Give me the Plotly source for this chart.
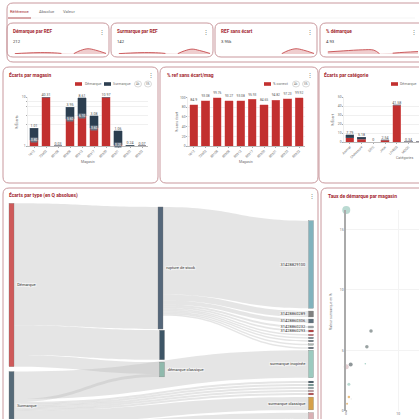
import plotly.graph_objects as go

W, H = 419, 450

RED = "#c2302f"
NAVY = "#2c3e50"
TITLE = "#a3282f"
BORDER = "#c9989d"
GREY = "#707070"

# tabs and kpi cards
tabs = ["Référence", "Absolue", "Valeur"]
kpi_titles = ["Démarque par REF", "Surmarque par REF", "REF sans écart", "% démarque"]
kpi_values = ["212", "142", "3.95k", "4.93"]

spark1_x = [3, 15, 30, 45, 52, None, 65, 72, 80, 88, 99]
spark1_y = [0.05, 0.14, 0.2, 0.16, 0.08, None, 0.05, 0.5, 0.75, 0.55, 0.08]
spark2_x = [3, 15, 30, 45, 52, None, 65, 72, 80, 88, 99]
spark2_y = [0.05, 0.14, 0.2, 0.16, 0.08, None, 0.05, 0.45, 0.7, 0.5, 0.08]
spark3_x = [65, 72, 80, 88, 99]
spark3_y = [0.05, 0.5, 0.75, 0.55, 0.08]
spark4_x = [3, 20, 40, 52, 58, None, 72, 85, 99]
spark4_y = [0.3, 0.45, 0.6, 0.55, 0.05, None, 0.12, 0.25, 0.35]

# ecarts par magasin
magasins = ["1012", "73903", "80108", "80308", "80313", "80317", "80320", "80321", "80322", "80323"]
mag_demarque = [1.2, 10, 0.02, 5.6, 6.1, 3.6, 10, 0.2, 0.1, 0.03]
mag_surmarque = [2.4, 0, 0.01, 2.3, 3.7, 2.6, 0, 2.9, 0.1, 0.04]
mag_labels = ["1.01", "40.31", "0.03", "3.95", "8.61", "3.08", "10.97", "1.06", "0.24", "0.07"]
mag_inner = ["0.80", None, None, "5.60", "6.10", "3.60", None, "0.20", None, None]
mag_ticks = [0, 4.3, 6.3, 8.1, 9.1, 10]
mag_ticktext = ["1", "", "", "", "", "10"]

# % ref sans ecart
mag_correct = [84.9, 93.08, 99.76, 93.27, 93.08, 95.93, 84.65, 94.82, 97.23, 99.92]

# ecarts par categorie
categories = ["Animal", "Chaussure", "DIVE", "Jeux", "LIVRES", "MODE", "PAPET"]
cat_demarque = [5.0, 3.2, 0, 1.9, 41.0, 0.1, 0.05]
cat_surmarque = [2.8, 2.0, 0, 0.6, 0.6, 0.24, 0.15]
cat_labels = ["7.79", "5.18", "0", "2.54", "41.58", "0.34", "0.2"]

# sankey
node_labels = [
    "Démarque", "Surmarque", "rupture de stock", "", "démarque classique",
    "31428829100", "31428860289", "31428860306", "31428860232", "31428860293",
    "", "", "", "", "", "surmarque inopinée", "", "", "", "", "",
    "surmarque classique", "stock ouvert",
]
node_colors = [
    "#cf5a5a", "#566a78", "#55677a", "#3d5566", "#8fb9ac",
    "#82b3bd", "#808080", "#5d6f7c", "#a5aeb2", "#c0393b",
    "#c8656a", "#6a7a85", "#4f5f6b", "#a9b5b0", "#3d4f5c", "#9ccabf",
    "#2f4656", "#6c9a96", "#9aaeb0", "#cfa2a6", "#c0393b",
    "#d6a04a", "#d9b0b4",
]
link_source = [0, 0, 0, 1, 1, 1, 1, 1, 1, 1, 1, 1,
               2, 2, 2, 2, 2, 2, 2, 2, 2, 2]
link_target = [2, 3, 4, 4, 15, 16, 17, 18, 19, 20, 21, 22,
               5, 6, 7, 8, 9, 10, 11, 12, 13, 14]
link_value = [124, 30, 12, 3, 28, 1.8, 1.8, 1.8, 1.8, 1.8, 13, 17,
              89, 6, 4, 2, 2, 1.5, 1.5, 1.5, 1.5, 1.5]

# layout of the sankey nodes, in pixels of the page (centers)
node_px_x = [11.5, 11.5, 160.5, 162, 162] + [311] * 18
node_px_y = [285, 406, 268, 345, 369.5, 264.5, 314, 321, 327, 331,
             335, 338, 341, 344.5, 348, 364, 382, 385, 388, 391, 394, 403.5, 421]

# bubbles
bub_x = [0.05, 4.8, 4.0, 0.9, 3.7, 0.05, 0.55, 0.55, 0.2, 1.0, 0.05]
bub_y = [16.6, 6.6, 5.3, 3.85, 3.9, 3.65, 2.2, 1.15, 0.6, 1.0, 0]
bub_size = [8, 3.5, 3.5, 4, 1.5, 5, 3, 2.5, 2, 1.2, 2]
bub_color = ["#9ccabf", "#6d7b7b", "#6d7b7b", "#5f6b6e", "#7fbcae", "#d9bcc0",
             "#9ccabf", "#e0a24a", "#e0a24a", "#dddddd", "#8a8a8a"]


def xd(a, b):
    return [a / W, b / W]


def yd(top, bottom):
    return [1 - bottom / H, 1 - top / H]


def card(x0, y0, x1, y1, r=6, color=BORDER, width=1):
    a, b, c, d = x0 / W, 1 - y0 / H, x1 / W, 1 - y1 / H
    rx, ry = r / W, r / H
    path = (f"M {a+rx} {b} L {c-rx} {b} Q {c} {b} {c} {b-ry} L {c} {d+ry} Q {c} {d} {c-rx} {d} "
            f"L {a+rx} {d} Q {a} {d} {a} {d+ry} L {a} {b-ry} Q {a} {b} {a+rx} {b} Z")
    return dict(type="path", path=path, xref="paper", yref="paper",
                line=dict(color=color, width=width), layer="below")


def note(x, y, text, size=5, color="#333333", bold=False, anchor="left", angle=0):
    if bold:
        text = f"<b>{text}</b>"
    return dict(x=x / W, y=1 - y / H, xref="paper", yref="paper", text=text, showarrow=False,
                font=dict(size=size, color=color), xanchor=anchor, yanchor="middle",
                textangle=angle, borderpad=0)


def swatch(x0, x1, y, color):
    return dict(type="rect", x0=x0 / W, x1=x1 / W, y0=1 - (y + 1.8) / H, y1=1 - (y - 1.8) / H,
                xref="paper", yref="paper", fillcolor=color, line=dict(width=0))


def button(x, y):
    return dict(type="circle", x0=(x - 3.5) / W, x1=(x + 3.5) / W, y0=1 - (y + 3) / H, y1=1 - (y - 3) / H,
                xref="paper", yref="paper", line=dict(color="#b5b5b5", width=0.5))


fig = go.Figure()
shapes = []
notes = []

# outer cards
shapes += [card(7, 3, 440, 62), card(3, 67, 158, 183), card(160, 67, 318, 183), card(319, 67, 440, 183),
           card(3, 188, 318, 470), card(321, 188, 440, 470)]
shapes += [card(7, 23, 109, 57), card(111, 23, 213, 57), card(215, 23, 317, 57), card(320, 23, 440, 57)]
shapes.append(dict(type="line", x0=8 / W, x1=415 / W, y0=1 - 18 / H, y1=1 - 18 / H, xref="paper", yref="paper",
                   line=dict(color="#eeeeee", width=0.6)))
shapes.append(dict(type="line", x0=8 / W, x1=31 / W, y0=1 - 18 / H, y1=1 - 18 / H, xref="paper", yref="paper",
                   line=dict(color=TITLE, width=0.8)))

notes += [note(9, 11, tabs[0], 4.2, TITLE), note(38, 11, tabs[1], 4.2, GREY), note(62, 11, tabs[2], 4.2, GREY)]

# kpi cards
kpi_left = [12, 116, 220, 325]
kpi_dots = [102, 206, 310, 414]
sparks = [(spark1_x, spark1_y), (spark2_x, spark2_y), (spark3_x, spark3_y), (spark4_x, spark4_y)]
for i in range(4):
    notes.append(note(kpi_left[i], 31, kpi_titles[i], 4.7, TITLE, bold=True))
    notes.append(note(kpi_left[i], 41, kpi_values[i], 4.2, "#333333"))
    notes.append(note(kpi_dots[i], 31, "⋮", 6, GREY, anchor="center"))
    name = str(i + 4)
    left = kpi_left[i]
    fig.add_trace(go.Scatter(x=sparks[i][0], y=sparks[i][1], mode="lines", fill="tozeroy",
                             line=dict(color="#c0393b", width=0.8, shape="spline"),
                             fillcolor="rgba(192,57,59,0.25)", xaxis="x" + name, yaxis="y" + name))
    fig.update_layout(**{
        "xaxis" + name: dict(domain=xd(left, min(left + 95, W)), range=[0, 100], visible=False, anchor="y" + name),
        "yaxis" + name: dict(domain=yd(47, 54), range=[0, 1], visible=False, anchor="x" + name),
    })

# ecarts par magasin
fig.add_trace(go.Bar(x=magasins, y=mag_demarque, marker=dict(color=RED, line=dict(color="#e58a8a", width=0.4)), xaxis="x", yaxis="y"))
fig.add_trace(go.Bar(x=magasins, y=mag_surmarque, marker=dict(color=NAVY, line=dict(color="#5a6b7c", width=0.4)), xaxis="x", yaxis="y"))
mag_totals = [a + b for a, b in zip(mag_demarque, mag_surmarque)]
fig.add_trace(go.Scatter(x=magasins, y=mag_totals, mode="text", text=mag_labels, textposition="top center",
                         textfont=dict(size=3.6, color="#555555"), cliponaxis=False, xaxis="x", yaxis="y"))
for i, (y, txt) in enumerate(zip(mag_demarque, mag_inner)):
    if txt:
        # numeric-looking names would be read as positions, so use the index
        notes.append(dict(x=i, y=y, xref="x", yref="y", text=txt, showarrow=False, bgcolor="#6b7785",
                          font=dict(size=3.2, color="white"), borderpad=0))

# % ref sans ecart
fig.add_trace(go.Bar(x=magasins, y=mag_correct, marker=dict(color=RED, line=dict(color="#e58a8a", width=0.4)),
                     text=[str(v) for v in mag_correct], textposition="outside", cliponaxis=False,
                     textfont=dict(size=3.6, color="#555555"), xaxis="x2", yaxis="y2"))

# ecarts par categorie
fig.add_trace(go.Bar(x=categories, y=cat_demarque, marker=dict(color=RED, line=dict(color="#e58a8a", width=0.4)), xaxis="x3", yaxis="y3"))
fig.add_trace(go.Bar(x=categories, y=cat_surmarque, marker=dict(color=NAVY, line=dict(color="#5a6b7c", width=0.4)), xaxis="x3", yaxis="y3"))
cat_totals = [a + b for a, b in zip(cat_demarque, cat_surmarque)]
fig.add_trace(go.Scatter(x=categories, y=cat_totals, mode="text", text=cat_labels, textposition="top center",
                         textfont=dict(size=3.6, color="#555555"), cliponaxis=False, xaxis="x3", yaxis="y3"))

cat_axis = dict(type="category", tickangle=-45, tickfont=dict(size=3.4, color=GREY), ticks="outside", ticklen=1, tickwidth=0.4,
                tickcolor="#aaaaaa", showline=True, linecolor="#bbbbbb", linewidth=0.5, showgrid=False)
val_axis = dict(tickfont=dict(size=3.4, color=GREY), gridcolor="#f0f0f0", gridwidth=0.5, zeroline=False,
                ticks="outside", ticklen=1, tickwidth=0.4, tickcolor="#aaaaaa", showline=True, linecolor="#eeeeee", linewidth=0.4)
fig.update_layout(
    xaxis=dict(domain=xd(28, 148), range=[-0.5, 9.5], **cat_axis),
    yaxis=dict(domain=yd(97, 146), range=[0, 10], tickvals=mag_ticks, ticktext=mag_ticktext, **val_axis),
    xaxis2=dict(domain=xd(188, 305), range=[-0.5, 9.5], anchor="y2", **cat_axis),
    yaxis2=dict(domain=yd(97, 146), range=[0, 101], tickvals=[0, 20, 40, 60, 80, 100], anchor="x2", **val_axis),
    xaxis3=dict(domain=xd(344, 419), range=[-0.5, 5.9], anchor="y3", **cat_axis),
    yaxis3=dict(domain=yd(97, 142), range=[0, 50], tickvals=[0, 10, 20, 30, 40, 50], anchor="x3", **val_axis),
)

# sankey
sx0, sx1, sy0, sy1 = 9, 315, 202, 440
fig.add_trace(go.Sankey(
    domain=dict(x=xd(sx0, sx1), y=yd(sy0, sy1)),
    arrangement="fixed",
    textfont=dict(size=4, color="#333333"),
    node=dict(label=node_labels, color=node_colors, pad=1, thickness=5, line=dict(color="#777777", width=0.3),
              x=[(v - sx0) / (sx1 - sx0) for v in node_px_x],
              y=[(v - sy0) / (sy1 - sy0) for v in node_px_y]),
    link=dict(source=link_source, target=link_target, value=link_value, color="rgba(190,190,190,0.4)"),
))

# bubbles
fig.add_trace(go.Scatter(x=bub_x, y=bub_y, mode="markers", cliponaxis=False,
                         marker=dict(size=bub_size, color=bub_color, line=dict(width=0)), xaxis="x8", yaxis="y8"))
fig.update_layout(
    xaxis8=dict(domain=xd(346, 419), range=[0, 14], tickvals=[0, 10], anchor="y8", zeroline=False,
                tickfont=dict(size=3.4, color=GREY), gridcolor="#f3f3f3", gridwidth=1.2),
    yaxis8=dict(domain=yd(210, 411), range=[0, 16.6], tickvals=[0, 5, 10, 15], anchor="x8", zeroline=False,
                showline=True, linecolor="#aaaaaa", linewidth=1.5,
                tickfont=dict(size=3.4, color=GREY), gridcolor="#f3f3f3", gridwidth=1.2),
)

# titles and legends
notes += [
    note(8, 75, "Écarts par magasin", 4.9, TITLE, bold=True),
    note(166, 75, "% ref sans écart/mag", 4.9, TITLE, bold=True),
    note(323, 75, "Écarts par catégorie", 4.9, TITLE, bold=True),
    note(8, 196, "Écarts par type (en Q absolues)", 4.9, TITLE, bold=True),
    note(327, 196, "Taux de démarque par magasin", 4.9, TITLE, bold=True),
    note(151, 75, "⋮", 6, GREY, anchor="center"),
    note(310, 75, "⋮", 6, GREY, anchor="center"),
    note(312, 196, "⋮", 6, GREY, anchor="center"),
    note(84, 84, "Démarque", 3.6, GREY),
    note(112, 84, "Surmarque", 3.6, GREY),
    note(138, 84, "Ab", 2.8, GREY, anchor="center"),
    note(148, 84, "5%", 2.8, GREY, anchor="center"),
    note(272, 84, "% correct", 3.6, GREY),
    note(296, 84, "Ab", 2.8, GREY, anchor="center"),
    note(306, 84, "5%", 2.8, GREY, anchor="center"),
    note(399, 84, "Démarque", 3.6, GREY),
    note(17, 122, "% Écarts", 3.6, GREY, anchor="center", angle=-90),
    note(88, 162, "Magasin", 3.6, GREY, anchor="center"),
    note(177, 122, "% sans écart", 3.6, GREY, anchor="center", angle=-90),
    note(246, 162, "Magasin", 3.6, GREY, anchor="center"),
    note(333, 120, "% Écart", 3.6, GREY, anchor="center", angle=-90),
    note(404, 158, "Catégories", 3.6, GREY, anchor="center"),
    note(331, 312, "Valeur surmarque en %", 3.6, GREY, anchor="center", angle=-90),
]
shapes += [swatch(75, 82, 84, RED), swatch(104, 111, 84, NAVY), button(138, 84), button(148, 84),
           swatch(264, 271, 84, RED), button(296, 84), button(306, 84), swatch(391, 398, 84, RED)]

fig.update_layout(
    width=W, height=H, margin=dict(l=0, r=0, t=0, b=0, autoexpand=False), autosize=False,
    paper_bgcolor="white", plot_bgcolor="white", showlegend=False,
    barmode="stack", bargap=0.3,
    font=dict(family="Roboto, sans-serif"),
    shapes=shapes, annotations=notes,
)

fig.write_html("out.html", config=dict(displayModeBar=False),
               post_script="document.body.style.margin='0';document.documentElement.style.overflow='hidden';"
                           "var gd=document.getElementById('{plot_id}');gd.style.position='absolute';gd.style.left='0';gd.style.top='0';")
